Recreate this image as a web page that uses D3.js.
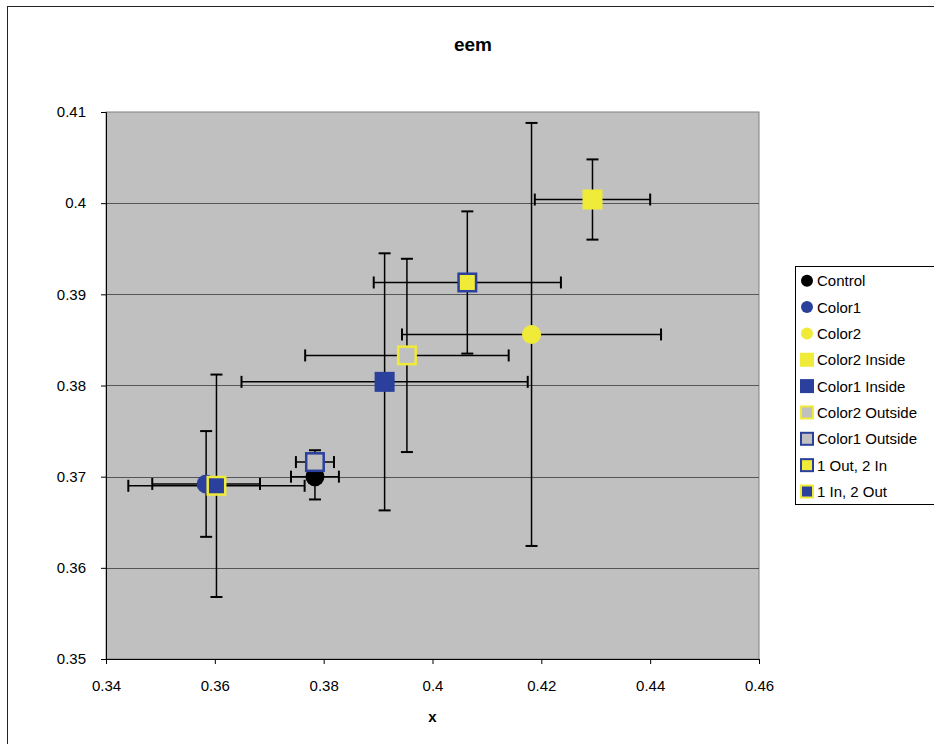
<!DOCTYPE html>
<html>
<head>
<meta charset="utf-8">
<script src="https://cdn.jsdelivr.net/npm/d3@7/dist/d3.min.js"></script>
<style>
  body { margin: 0; background: #fff; }
  text { font-family: Arial, "Liberation Sans", sans-serif; fill: #000; }
</style>
</head>
<body>
<svg id="chart" width="934" height="744"></svg>
<script>
// series
var names = ['Control', 'Color1', 'Color2', 'Color2 Inside', 'Color1 Inside',
  'Color2 Outside', 'Color1 Outside', '1 Out, 2 In', '1 In, 2 Out'];
var xValues = [0.3784, 0.3584, 0.4182, 0.4294, 0.3912, 0.3953, 0.3784, 0.4064, 0.3603];
var yValues = [0.3700, 0.3692, 0.3856, 0.4004, 0.3804, 0.3833, 0.3716, 0.3913, 0.3690];
var xErrors = [0.0044, 0.0099, 0.0238, 0.0106, 0.0263, 0.0187, 0.0035, 0.0172, 0.0162];
var yErrors = [0.0025, 0.0058, 0.0232, 0.0044, 0.0141, 0.0106, 0.0013, 0.0078, 0.0122];
var shapes = ['circle', 'circle', 'circle', 'square', 'square', 'square', 'square', 'square', 'square'];
var xTicks = [0.34, 0.36, 0.38, 0.4, 0.42, 0.44, 0.46];
var yTicks = [0.35, 0.36, 0.37, 0.38, 0.39, 0.4, 0.41];

(function() {
  'use strict';
  var blue = '#2a409c',
    yellow = '#f0ea38',
    grey = '#c0c0c0';
  var fills = ['#000', blue, yellow, yellow, blue, grey, grey, yellow, blue];
  var strokes = [null, null, null, null, null, yellow, blue, blue, yellow];

  var svg = d3.select('#chart');
  var plot = { left: 106, right: 759, top: 112, bottom: 659 };

  // chart area border (runs off the right and bottom edge)
  svg.append('rect')
    .attr('x', 7.5).attr('y', 6.5)
    .attr('width', 1000).attr('height', 1000)
    .attr('fill', '#fff').attr('stroke', '#222');

  var x = d3.scaleLinear().domain([0.34, 0.46]).range([plot.left, plot.right]);
  var y = d3.scaleLinear().domain([0.35, 0.41]).range([plot.bottom, plot.top]);

  svg.append('rect')
    .attr('x', plot.left).attr('y', plot.top)
    .attr('width', plot.right - plot.left).attr('height', plot.bottom - plot.top)
    .attr('fill', grey).attr('stroke', '#808080');

  svg.append('g').selectAll('line')
    .data(yTicks.slice(1, -1))
    .enter().append('line')
    .attr('x1', plot.left).attr('x2', plot.right)
    .attr('y1', function(d) { return Math.round(y(d)) + 0.5; })
    .attr('y2', function(d) { return Math.round(y(d)) + 0.5; })
    .attr('stroke', '#555');

  var xAxis = svg.append('g')
    .attr('transform', 'translate(0,' + plot.bottom + ')')
    .call(d3.axisBottom(x).tickValues(xTicks).tickSize(5).tickPadding(16)
      .tickFormat(d3.format('')));
  var yAxis = svg.append('g')
    .attr('transform', 'translate(' + plot.left + ',0)')
    .call(d3.axisLeft(y).tickValues(yTicks).tickSize(5).tickPadding(15)
      .tickFormat(d3.format('')));
  [xAxis, yAxis].forEach(function(axis) {
    axis.select('.domain').attr('stroke', '#000');
    axis.selectAll('.tick line').attr('stroke', '#000');
    axis.selectAll('text').attr('font-size', 15)
      .attr('font-family', 'Arial, "Liberation Sans", sans-serif');
  });

  // error bars go under every marker
  var cap = 6;
  var bars = svg.append('g').attr('stroke', '#000').attr('stroke-width', 1.5);
  names.forEach(function(name, i) {
    var cx = x(xValues[i]),
      cy = y(yValues[i]),
      x0 = x(xValues[i] - xErrors[i]),
      x1 = x(xValues[i] + xErrors[i]),
      y0 = y(yValues[i] - yErrors[i]),
      y1 = y(yValues[i] + yErrors[i]);
    bars.append('line').attr('x1', x0).attr('x2', x1).attr('y1', cy).attr('y2', cy);
    bars.append('line').attr('x1', cx).attr('x2', cx).attr('y1', y0).attr('y2', y1);
    [x0, x1].forEach(function(px) {
      bars.append('line').attr('x1', px).attr('x2', px)
        .attr('y1', cy - cap).attr('y2', cy + cap).attr('stroke-width', 2);
    });
    [y0, y1].forEach(function(py) {
      bars.append('line').attr('y1', py).attr('y2', py)
        .attr('x1', cx - cap).attr('x2', cx + cap).attr('stroke-width', 2);
    });
  });

  var marker = function(g, i, cx, cy, size) {
    if (shapes[i] === 'circle') {
      g.append('circle').attr('cx', cx).attr('cy', cy).attr('r', size / 2 - 0.5)
        .attr('fill', fills[i]);
    } else if (strokes[i]) {
      var sw = size > 15 ? 2.5 : 2;
      g.append('rect')
        .attr('x', cx - size / 2 + sw / 2).attr('y', cy - size / 2 + sw / 2)
        .attr('width', size - sw).attr('height', size - sw)
        .attr('fill', fills[i]).attr('stroke', strokes[i]).attr('stroke-width', sw);
    } else {
      g.append('rect')
        .attr('x', cx - size / 2).attr('y', cy - size / 2)
        .attr('width', size).attr('height', size)
        .attr('fill', fills[i]);
    }
  };

  var marks = svg.append('g');
  names.forEach(function(name, i) {
    marker(marks, i, x(xValues[i]), y(yValues[i]), 20);
  });

  svg.append('text')
    .attr('x', 473).attr('y', 51)
    .attr('text-anchor', 'middle')
    .attr('font-size', 19).attr('font-weight', 'bold')
    .text('eem');

  svg.append('text')
    .attr('x', (plot.left + plot.right) / 2).attr('y', 722)
    .attr('text-anchor', 'middle')
    .attr('font-size', 15).attr('font-weight', 'bold')
    .text('x');

  // legend
  var legend = svg.append('g').attr('transform', 'translate(795,266)');
  legend.append('rect')
    .attr('x', 0.5).attr('y', 0.5).attr('width', 200).attr('height', 238)
    .attr('fill', '#fff').attr('stroke', '#000');
  names.forEach(function(name, i) {
    var row = legend.append('g')
      .attr('transform', 'translate(0,' + (14.7 + i * 26.35) + ')');
    marker(row, i, 12, 0, shapes[i] === 'circle' ? 13 : 14);
    row.append('text')
      .attr('x', 22).attr('y', 5.5)
      .attr('font-size', 15)
      .text(name);
  });
}).call(this);
</script>
</body>
</html>
